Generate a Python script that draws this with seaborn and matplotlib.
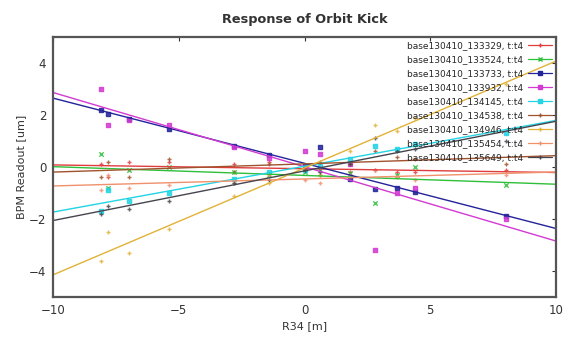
import matplotlib
matplotlib.use("Agg")
import matplotlib.pyplot as plt
from matplotlib.lines import Line2D
import numpy as np
import pandas as pd
import seaborn as sns

# BPM positions along R34 [m]
r34 = [-8.1, -7.8, -7.0, -5.4, -2.8, -1.4, 0.0, 0.6, 1.8, 2.8, 3.7, 4.4, 8.0]

runs = [
    "base130410_133329, t:t4",
    "base130410_133524, t:t4",
    "base130410_133733, t:t4",
    "base130410_133932, t:t4",
    "base130410_134145, t:t4",
    "base130410_134538, t:t4",
    "base130410_134946, t:t4",
    "base130410_135454, t:t4",
    "base130410_135649, t:t4",
]

# BPM readout [um] for each run
run_133329 = [0.1, -0.4, 0.2, 0.2, 0.1, 0.2, 0.0, -0.3, -0.2, -0.1, -0.2, -0.2, -0.1]
run_133524 = [0.5, -0.8, -0.1, 0.0, -0.2, -0.3, -0.2, -0.1, -0.25, -1.4, -0.3, 0.0, -0.7]
run_133733 = [2.2, 2.05, 1.85, 1.45, 0.8, 0.45, 0.05, 0.75, -0.45, -0.85, -0.8, -0.95, -1.9]
run_133932 = [3.0, 1.6, 1.8, 1.6, 0.75, 0.35, 0.6, 0.5, 0.1, -3.2, -1.0, -0.8, -2.0]
run_134145 = [-1.7, -0.9, -1.3, -1.0, -0.45, -0.2, -0.1, 0.05, 0.3, 0.8, 0.7, 0.9, 1.3]
run_134538 = [-0.4, 0.2, -0.4, 0.3, -0.2, 0.1, -0.1, 0.2, 0.1, 0.6, 0.4, 0.3, 0.1]
run_134946 = [-3.6, -2.5, -3.3, -2.4, -1.1, -0.6, 0.0, -0.3, 0.6, 1.6, 1.4, 1.9, 3.2]
run_135454 = [-0.9, -0.3, -0.8, -0.7, -0.6, -0.3, -0.5, -0.6, -0.3, -0.1, -0.4, -0.5, -0.3]
run_135649 = [-1.8, -1.5, -1.6, -1.3, -0.6, -0.5, -0.1, -0.2, 0.1, 1.1, 0.6, 0.7, 1.0]

readouts = [run_133329, run_133524, run_133733, run_133932, run_134145,
            run_134538, run_134946, run_135454, run_135649]

colors = ["#e03c3c", "#2fbf3a", "#23239a", "#d23ad2", "#22d4e4",
          "#a0522d", "#e2b236", "#f0906c", "#45454f"]
markers = ["+", "x", "s", "s", "s", "+", "+", "+", "+"]

sns.set_theme(style="white")
plt.rcParams["font.family"] = ["DejaVu Sans"]

fig = plt.figure(figsize=(5.66, 3.37), dpi=100)
ax = fig.add_axes([0.094, 0.119, 0.888, 0.771])
ax.set_xlim(-10, 10)
ax.set_ylim(-5, 5)

handles = []
for label, y, c, m in zip(runs, readouts, colors, markers):
    df = pd.DataFrame({"R34": r34, "readout": y})
    sns.regplot(data=df, x="R34", y="readout", ax=ax, ci=None, truncate=False,
                marker=m, color=c,
                scatter_kws={"s": 10, "linewidths": 1.0, "alpha": 0.85},
                line_kws={"linewidth": 1.0})
    handles.append(Line2D([], [], color=c, marker=m, markersize=3.5,
                          linewidth=0.9, markeredgewidth=1.0))

ax.set_xlim(-10, 10)
ax.set_ylim(-5, 5)
ax.set_xticks([-10, -5, 0, 5, 10])
ax.set_yticks([-4, -2, 0, 2, 4])
ax.tick_params(direction="in", length=3, width=0.8, top=True, right=True,
               labelsize=8.5, colors="#333333", pad=5)
for s in ax.spines.values():
    s.set_color("#555555")
    s.set_linewidth(1.6)

ax.set_xlabel("R34 [m]", fontsize=8, color="#333333", labelpad=3)
ax.set_ylabel("BPM Readout [um]", fontsize=8, color="#333333", labelpad=2)
ax.set_title("Response of Orbit Kick", fontsize=9.3, fontweight="bold",
             color="#333333", pad=10)

ax.legend(handles, runs, loc="upper right", frameon=False, markerfirst=False,
          fontsize=6.5, labelspacing=0.55, handlelength=2.6, handletextpad=0.6,
          borderaxespad=0.15, borderpad=0.3)

fig.savefig("out.png", dpi=100)
